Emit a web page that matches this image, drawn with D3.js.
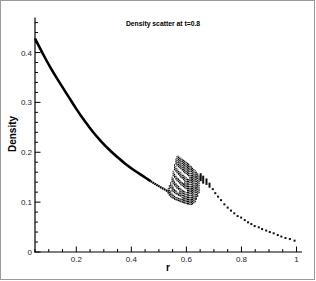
<!DOCTYPE html>
<html><head><meta charset="utf-8">
<script src="https://cdn.jsdelivr.net/npm/d3@7"></script>
<style>html,body{margin:0;padding:0;background:#fff;}svg{display:block;}</style>
</head><body>
<script>
// ---- data ----
const titleText = "Density scatter at t=0.8";
const xLabel = "r";
const yLabel = "Density";
const xTickValues = [0.2, 0.4, 0.6, 0.8, 1];
const xTickLabels = ["0.2", "0.4", "0.6", "0.8", "1"];
const yTickValues = [0, 0.1, 0.2, 0.3, 0.4];
const yTickLabels = ["0", "0.1", "0.2", "0.3", "0.4"];

// smooth inner profile (dense points, drawn as a thick line)
const innerR   = [0.05, 0.08, 0.11, 0.14, 0.17, 0.20, 0.23, 0.26, 0.29, 0.32, 0.35, 0.38, 0.41, 0.44, 0.47, 0.50, 0.535];
const innerRho = [0.428,0.396,0.366,0.339,0.313,0.287,0.263,0.241,0.222,0.205,0.190,0.176,0.164,0.153,0.142,0.132,0.121];

// scatter cloud: column r and [lo, hi] ranges of rho in each column
const cloudR = [0.534,0.538,0.543,0.548,0.552,0.557,0.562,0.566,0.571,0.576,0.580,0.585,0.590,0.594,0.599,0.604,0.608,0.613,0.618,0.622,0.627,0.632,0.636,0.641,0.646];
const cloudSeg = [
  [[0.117,0.128]],
  [[0.113,0.134]],
  [[0.110,0.124],[0.128,0.141]],
  [[0.108,0.118],[0.122,0.136],[0.140,0.151]],
  [[0.107,0.115],[0.120,0.131],[0.136,0.148],[0.152,0.163]],
  [[0.105,0.113],[0.118,0.127],[0.133,0.143],[0.149,0.159],[0.164,0.176]],
  [[0.104,0.111],[0.116,0.124],[0.130,0.139],[0.145,0.155],[0.161,0.172],[0.176,0.187]],
  [[0.103,0.110],[0.115,0.121],[0.127,0.136],[0.142,0.151],[0.158,0.168],[0.173,0.192]],
  [[0.102,0.109],[0.113,0.119],[0.125,0.133],[0.140,0.148],[0.155,0.165],[0.170,0.193]],
  [[0.101,0.108],[0.112,0.131],[0.137,0.145],[0.152,0.162],[0.168,0.191]],
  [[0.100,0.107],[0.111,0.128],[0.134,0.143],[0.149,0.160],[0.166,0.189]],
  [[0.099,0.126],[0.132,0.140],[0.147,0.157],[0.163,0.187]],
  [[0.098,0.124],[0.130,0.138],[0.144,0.155],[0.160,0.185]],
  [[0.097,0.122],[0.128,0.152],[0.158,0.183]],
  [[0.096,0.120],[0.126,0.150],[0.156,0.181]],
  [[0.095,0.148],[0.154,0.179]],
  [[0.095,0.146],[0.152,0.177]],
  [[0.094,0.175]],
  [[0.094,0.172]],
  [[0.095,0.170]],
  [[0.097,0.167]],
  [[0.100,0.164]],
  [[0.105,0.161]],
  [[0.111,0.158]],
  [[0.118,0.155]]
];

// outer profile (discrete points)
const outerR   = [0.652,0.661,0.673,0.684,0.696,0.705,0.715,0.726,0.738,0.750,0.762,0.774,0.786,0.799,0.812,0.824,0.836,0.848,0.863,0.875,0.890,0.903,0.917,0.932,0.945,0.960,0.976,0.993];
const outerRho = [0.150,0.145,0.141,0.134,0.126,0.118,0.111,0.104,0.0956,0.089,0.083,0.0776,0.072,0.069,0.064,0.0595,0.056,0.052,0.0495,0.046,0.043,0.040,0.0375,0.034,0.031,0.028,0.026,0.0227];
const outerTall = [0.012,0.012,0.009,0.006,0,0,0,0,0,0,0,0,0,0,0,0,0,0,0,0,0,0,0,0,0,0,0,0];

// ---- drawing ----
const W = 316, H = 281;
const svg = d3.select("body").append("svg").attr("width", W).attr("height", H);
svg.append("rect").attr("x", 0.5).attr("y", 0.5).attr("width", 314).attr("height", 279)
  .attr("fill", "#fff").attr("stroke", "#9a9a9a").attr("stroke-width", 1);

const x = d3.scaleLinear().domain([0.05, 1.02]).range([35, 302]);
const y = d3.scaleLinear().domain([0, 0.47]).range([252, 17.6]);
const font = "'Liberation Sans', Arial, Helvetica, sans-serif";

// inner curve
const innerPts = innerR.map((r, i) => [r, innerRho[i]]);
const line = d3.line().x(d => x(d[0])).y(d => y(d[1])).curve(d3.curveMonotoneX);
svg.append("path").datum(innerPts.filter(d => d[0] <= 0.47))
  .attr("d", line).attr("fill", "none").attr("stroke", "#000").attr("stroke-width", 2.6);
svg.append("path").datum(innerPts.filter(d => d[0] >= 0.47))
  .attr("d", line).attr("fill", "none").attr("stroke", "#000").attr("stroke-width", 2.2)
  .attr("stroke-dasharray", "1.7,0.5");

// cloud
const segs = [];
cloudR.forEach((r, i) => cloudSeg[i].forEach(s => segs.push({r, lo: s[0], hi: s[1]})));
svg.append("g").selectAll("line").data(segs).join("line")
  .attr("x1", d => x(d.r)).attr("x2", d => x(d.r))
  .attr("y1", d => y(d.lo)).attr("y2", d => y(d.hi))
  .attr("stroke", "#000").attr("stroke-width", 1.1)
  .attr("stroke-dasharray", "1.6,0.6");

// outer points
svg.append("g").selectAll("rect").data(outerR.map((r, i) => ({r, v: outerRho[i], t: outerTall[i]}))).join("rect")
  .attr("x", d => x(d.r) - 1).attr("width", 2)
  .attr("y", d => y(d.v + d.t / 2) - 1).attr("height", d => y(d.v - d.t / 2) - y(d.v + d.t / 2) + 2)
  .attr("fill", "#111");

// axes
const ax = svg.append("g").attr("stroke", "#000").attr("stroke-width", 1.2);
ax.append("line").attr("x1", 35).attr("x2", 35).attr("y1", y(0.47)).attr("y2", 252.6);
ax.append("line").attr("x1", 34.4).attr("x2", 302).attr("y1", 252).attr("y2", 252);

const xMinor = d3.range(0.05, 1.02, 0.05).filter(v => !xTickValues.some(t => Math.abs(t - v) < 1e-6));
const yMinor = d3.range(0, 0.47, 0.02).filter(v => !yTickValues.some(t => Math.abs(t - v) < 1e-6));
const tk = svg.append("g").attr("stroke", "#000").attr("stroke-width", 1);
tk.selectAll(".xM").data(xTickValues).join("line")
  .attr("x1", d => x(d)).attr("x2", d => x(d)).attr("y1", 252).attr("y2", 246.5);
tk.selectAll(".xm").data(xMinor).join("line")
  .attr("x1", d => x(d)).attr("x2", d => x(d)).attr("y1", 252).attr("y2", 249);
tk.selectAll(".yM").data(yTickValues).join("line")
  .attr("y1", d => y(d)).attr("y2", d => y(d)).attr("x1", 35).attr("x2", 40.5);
tk.selectAll(".ym").data(yMinor).join("line")
  .attr("y1", d => y(d)).attr("y2", d => y(d)).attr("x1", 35).attr("x2", 38);

svg.append("g").selectAll("text").data(xTickValues).join("text")
  .attr("x", d => x(d)).attr("y", 261.5).attr("text-anchor", "middle")
  .attr("font-family", font).attr("font-size", 8).attr("fill", "#222")
  .text((d, i) => xTickLabels[i]);
svg.append("g").selectAll("text").data(yTickValues).join("text")
  .attr("x", 32).attr("y", d => y(d) + 3).attr("text-anchor", "end")
  .attr("font-family", font).attr("font-size", 8).attr("fill", "#222")
  .text((d, i) => yTickLabels[i]);

svg.append("text").attr("x", 163).attr("y", 26).attr("text-anchor", "middle")
  .attr("font-family", font).attr("font-size", 6.8).attr("font-weight", "bold").text(titleText);
svg.append("text").attr("transform", "translate(15.5,134) rotate(-90)").attr("text-anchor", "middle")
  .attr("font-family", font).attr("font-size", 10).attr("font-weight", "bold").text(yLabel);
svg.append("text").attr("x", 168).attr("y", 270.5).attr("text-anchor", "middle")
  .attr("font-family", font).attr("font-size", 10).attr("font-weight", "bold").text(xLabel);
</script>
</body></html>
